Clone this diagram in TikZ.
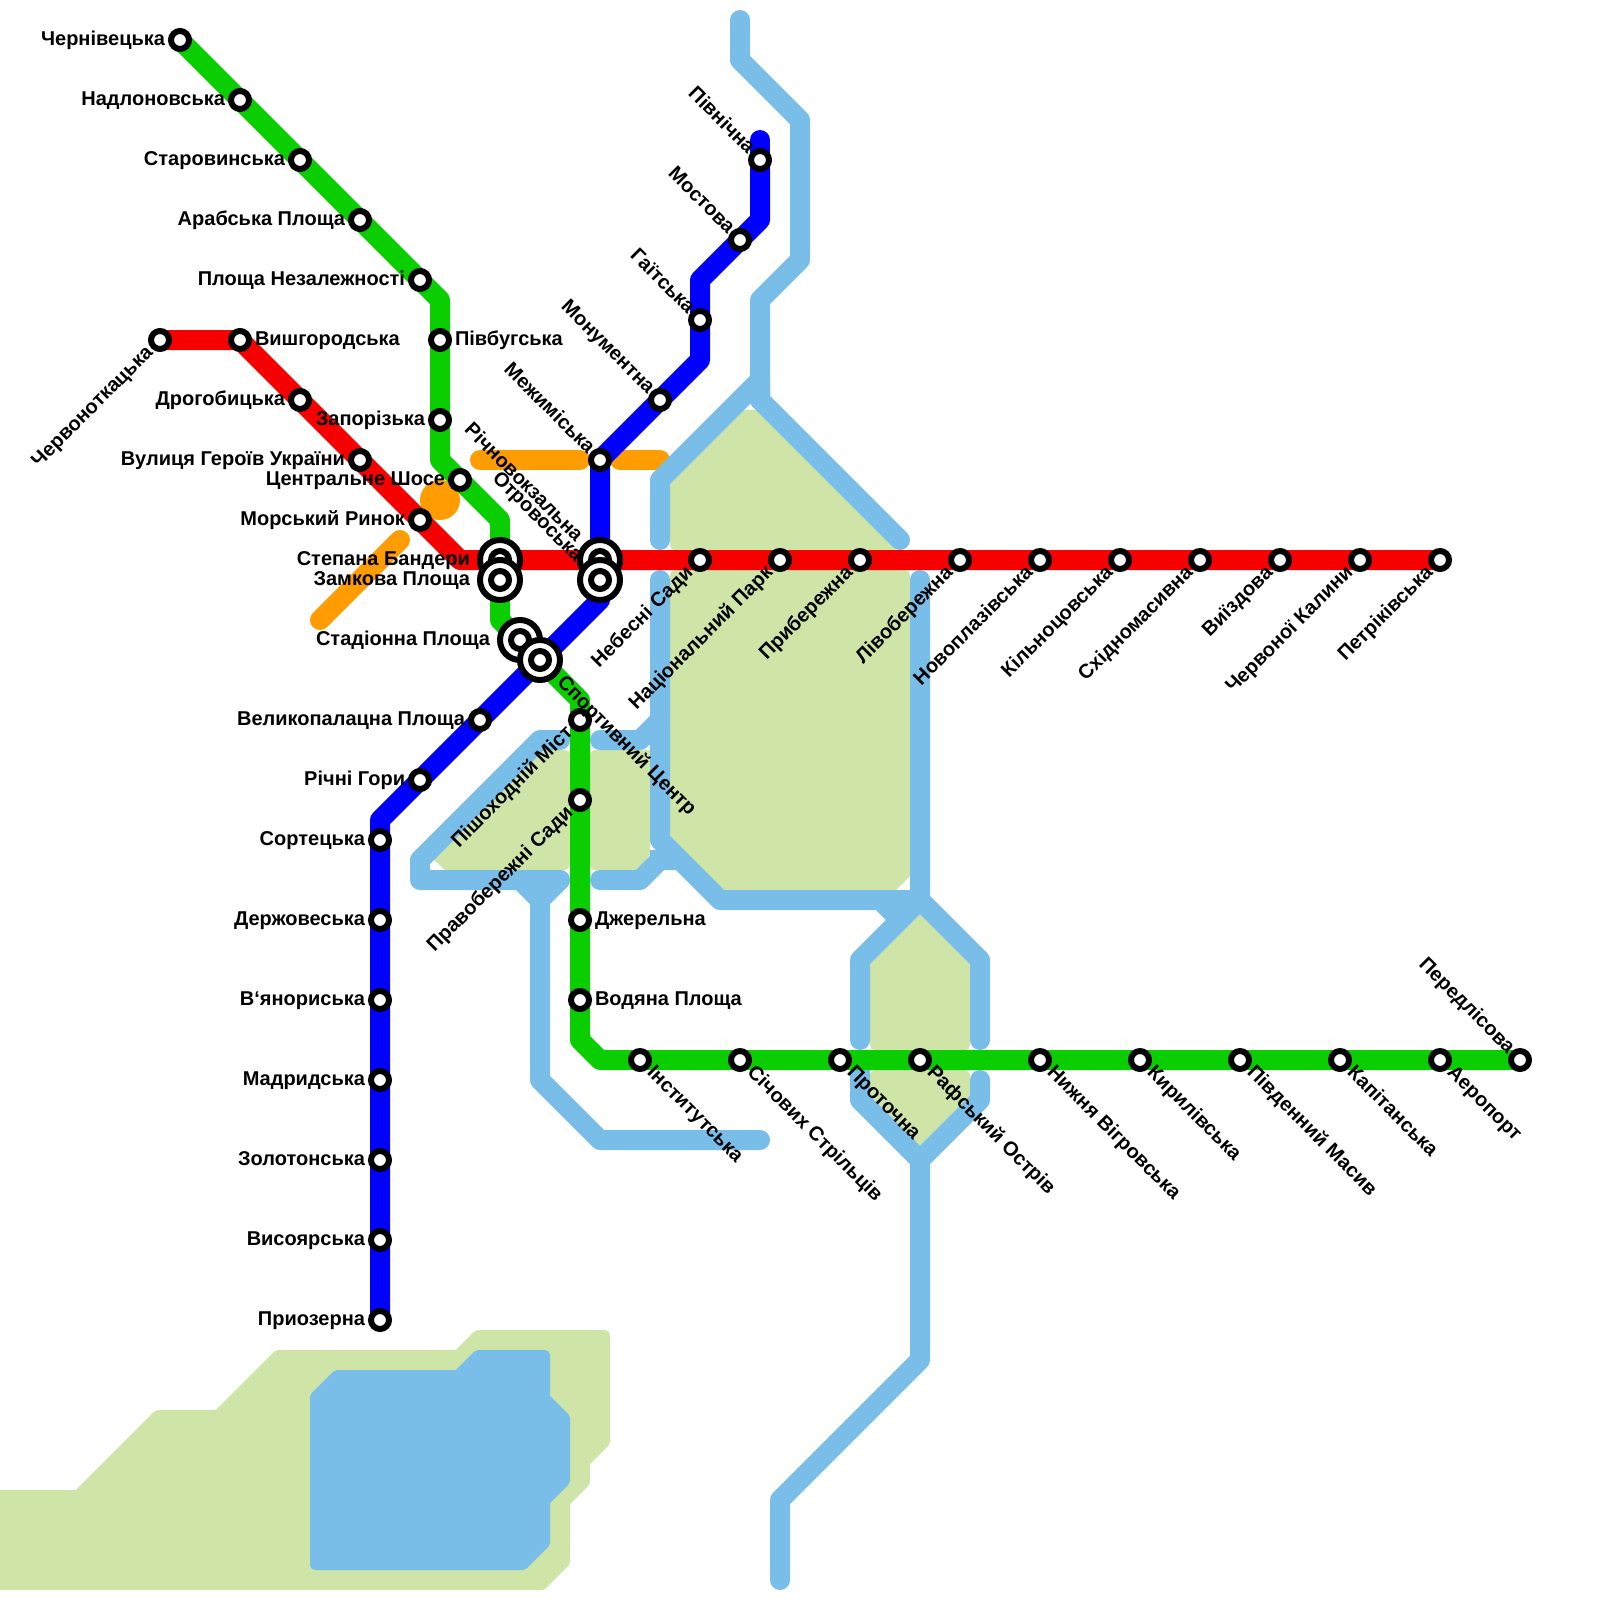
\documentclass[tikz,border=0pt]{standalone}
\usepackage{fontspec}
\setmainfont{Liberation Sans}
\pgfdeclarelayer{land}\pgfdeclarelayer{orangel}\pgfdeclarelayer{river}\pgfdeclarelayer{lines}
\pgfsetlayers{land,orangel,river,lines,main}
\definecolor{cland}{HTML}{CFE4A7}
\definecolor{criver}{HTML}{79BDE9}
\definecolor{cred}{HTML}{F70000}
\definecolor{cgreen}{HTML}{0BCE00}
\definecolor{cblue}{HTML}{0000FF}
\definecolor{corange}{HTML}{FF9C00}
\tikzset{
  stn/.style={circle,draw=black,fill=white,line width=6pt,minimum size=18pt,inner sep=0pt,outer sep=0pt},
  hubring/.style={circle,draw=black,fill=white,line width=6pt,minimum size=40pt,inner sep=0pt,outer sep=0pt},
  lbl/.style={font=\fontsize{20}{22}\selectfont\bfseries,text=black,inner sep=0pt,outer sep=0pt,text height=14.5pt,text depth=4pt},
  metro/.style={line width=20pt,line join=round,line cap=butt},
  riv/.style={draw=criver,line width=20pt,line join=round,line cap=round},
  orng/.style={draw=corange,line width=20pt,line cap=round},
  lnd/.style={fill=cland,rounded corners=5pt},
  lakeg/.style={fill=cland,draw=cland,line width=10pt,line join=round},
  lakeb/.style={fill=criver,draw=criver,line width=10pt,line join=round},
}
\newcommand{\stat}[3]{\node[stn] (#1) at (#2,#3) {};}
\newcommand{\hub}[3]{\node[hubring] (#1h) at (#2,#3) {};\node[stn] (#1) at (#2,#3) {};}
\newcommand{\lW}[3][15]{\node[lbl,anchor=east] (#2-l) at ([xshift=-#1pt]#2.center) {#3};}
\newcommand{\lE}[3][15]{\node[lbl,anchor=west] (#2-l) at ([xshift=#1pt]#2.center) {#3};}
\newcommand{\lNW}[3][9]{\node[lbl,anchor=east,rotate=-45] (#2-l) at ([xshift=-#1pt,yshift=#1pt]#2.center) {#3};}
\newcommand{\lSW}[3][10]{\node[lbl,anchor=east,rotate=45] (#2-l) at ([xshift=-#1pt,yshift=-#1pt]#2.center) {#3};}
\newcommand{\lSE}[3][10]{\node[lbl,anchor=west,rotate=-45] (#2-l) at ([xshift=#1pt,yshift=-#1pt]#2.center) {#3};}
\begin{document}
\begin{tikzpicture}[x=1pt,y=-1pt]
\useasboundingbox (0,0) rectangle (1600,1600);
% bends
\coordinate (g1) at (440,300);\coordinate (g2) at (440,460);\coordinate (g3) at (500,520);
\coordinate (g4) at (500,620);\coordinate (g5) at (580,700);\coordinate (g6) at (580,1040);\coordinate (g7) at (600,1060);
\coordinate (r1) at (460,560);
\coordinate (b0) at (760,140);\coordinate (b1) at (760,220);\coordinate (b2) at (700,280);\coordinate (b3) at (700,360);
\coordinate (b4) at (600,600);\coordinate (b5) at (380,820);
% green stations
\stat{g-a}{180}{40}\stat{g-b}{240}{100}\stat{g-c}{300}{160}\stat{g-d}{360}{220}\stat{g-e}{420}{280}
\stat{g-f}{440}{340}\stat{g-g}{440}{420}\stat{g-h}{460}{480}
\stat{g-i}{580}{720}\stat{g-j}{580}{800}\stat{g-k}{580}{920}\stat{g-l}{580}{1000}
\stat{g-m}{640}{1060}\stat{g-n}{740}{1060}\stat{g-o}{840}{1060}\stat{g-p}{920}{1060}\stat{g-q}{1040}{1060}
\stat{g-r}{1140}{1060}\stat{g-s}{1240}{1060}\stat{g-t}{1340}{1060}\stat{g-u}{1440}{1060}\stat{g-v}{1520}{1060}
% red stations
\stat{r-a}{160}{340}\stat{r-b}{240}{340}\stat{r-c}{300}{400}\stat{r-d}{360}{460}\stat{r-e}{420}{520}
\stat{r-f}{700}{560}\stat{r-g}{780}{560}\stat{r-h}{860}{560}\stat{r-i}{960}{560}\stat{r-j}{1040}{560}
\stat{r-k}{1120}{560}\stat{r-l}{1200}{560}\stat{r-m}{1280}{560}\stat{r-n}{1360}{560}\stat{r-o}{1440}{560}
% blue stations
\stat{b-a}{760}{160}\stat{b-b}{740}{240}\stat{b-c}{700}{320}\stat{b-d}{660}{400}\stat{b-e}{600}{460}
\stat{b-f}{480}{720}\stat{b-g}{420}{780}\stat{b-h}{380}{840}\stat{b-i}{380}{920}\stat{b-j}{380}{1000}
\stat{b-k}{380}{1080}\stat{b-l}{380}{1160}\stat{b-m}{380}{1240}\stat{b-n}{380}{1320}
% interchanges
\hub{h-a}{500}{560}\hub{h-b}{500}{580}\hub{h-c}{600}{560}\hub{h-d}{600}{580}\hub{h-e}{520}{640}\hub{h-f}{540}{660}
% labels
\lW{g-a}{Чернівецька}\lW{g-b}{Надлоновська}\lW{g-c}{Старовинська}\lW{g-d}{Арабська Площа}\lW{g-e}{Площа Незалежності}
\lE{g-f}{Півбугська}\lW{g-g}{Запорізька}\lW{g-h}{Центральне Шосе}
\lE{r-b}{Вишгородська}\lW{r-c}{Дрогобицька}\lW{r-d}{Вулиця Героїв України}\lW{r-e}{Морський Ринок}
\lSW{r-a}{Червоноткацька}
\lW[30]{h-a}{Степана Бандери}\lW[30]{h-b}{Замкова Площа}\lW[30]{h-e}{Стадіонна Площа}
\lNW[21]{h-c}{Річновокзальна}\lNW[21]{h-d}{Отровоська}\lSE[20]{h-f}{Спортивний Центр}
\lNW{b-a}{Північна}\lNW{b-b}{Мостова}\lNW{b-c}{Гаїтська}\lNW{b-d}{Монументна}\lNW{b-e}{Межимiська}
\lW{b-f}{Великопалацна Площа}\lW{b-g}{Річні Гори}\lW{b-h}{Сортецька}\lW{b-i}{Держовеська}\lW{b-j}{В‘янориська}
\lW{b-k}{Мадридська}\lW{b-l}{Золотонська}\lW{b-m}{Висоярська}\lW{b-n}{Приозерна}
\lSW{r-f}{Небесні Сади}\lSW{r-g}{Національний Парк}\lSW{r-h}{Прибережна}\lSW{r-i}{Лівобережна}\lSW{r-j}{Новоплазівська}
\lSW{r-k}{Кільноцовська}\lSW{r-l}{Східномасивна}\lSW{r-m}{Виїздова}\lSW{r-n}{Червоної Калини}\lSW{r-o}{Петріківська}
\lSW{g-i}{Пішоходній Міст}\lSW{g-j}{Правобережні Сади}\lE{g-k}{Джерельна}\lE{g-l}{Водяна Площа}
\lSE{g-m}{Інститутська}\lSE{g-n}{Січових Стрільців}\lSE{g-o}{Проточна}\lSE{g-p}{Рафський Острів}\lSE{g-q}{Нижня Вігровська}
\lSE{g-r}{Кирилівська}\lSE{g-s}{Південний Масив}\lSE{g-t}{Капітанська}\lSE{g-u}{Аеропорт}\lNW{g-v}{Передлісова}
% metro lines
\begin{pgfonlayer}{lines}
\draw[metro,cgreen] (g-a.center)--(g-b.center)--(g-c.center)--(g-d.center)--(g-e.center)--(g1)--(g-f.center)--(g-g.center)--(g2)--(g-h.center)--(g3)--(h-a.center)--(h-b.center)--(g4)--(h-e.center)--(h-f.center)--(g5)--(g-i.center)--(g-j.center)--(g-k.center)--(g-l.center)--(g6)--(g7)--(g-m.center)--(g-n.center)--(g-o.center)--(g-p.center)--(g-q.center)--(g-r.center)--(g-s.center)--(g-t.center)--(g-u.center)--(g-v.center);
\draw[metro,cred] (r-a.center)--(r-b.center)--(r-c.center)--(r-d.center)--(r-e.center)--(r1)--(h-a.center)--(h-c.center)--(r-f.center)--(r-g.center)--(r-h.center)--(r-i.center)--(r-j.center)--(r-k.center)--(r-l.center)--(r-m.center)--(r-n.center)--(r-o.center);
\draw[metro,cblue,line cap=round] (b0)--(b-a.center);
\draw[metro,cblue] (b-a.center)--(b1)--(b-b.center)--(b2)--(b-c.center)--(b3)--(b-d.center)--(b-e.center)--(h-c.center)--(h-d.center)--(b4)--(h-f.center)--(b-f.center)--(b-g.center)--(b5)--(b-h.center)--(b-i.center)--(b-j.center)--(b-k.center)--(b-l.center)--(b-m.center)--(b-n.center);
\end{pgfonlayer}
% orange
\begin{pgfonlayer}{orangel}
\draw[orng] (480,460)--(580,460);
\draw[orng] (620,460)--(660,460);
\draw[orng] (320,620)--(400,540);
\fill[corange] (440,500) circle (20);
\end{pgfonlayer}
% river
\begin{pgfonlayer}{river}
\draw[riv] (740,20)--(740,60)--(800,120)--(800,260)--(760,300)--(760,400)--(900,540);
\draw[riv] (660,540)--(660,480)--(760,380)--(760,400);
\draw[riv] (660,580)--(660,840)--(720,900)--(920,900);
\draw[riv] (880,900)--(900,920);
\draw[riv] (920,580)--(920,900)--(980,960)--(980,1040);
\draw[riv] (920,900)--(860,960)--(860,1040);
\draw[riv] (860,1060)--(860,1100)--(920,1160)--(980,1100)--(980,1080);
\draw[riv] (920,1160)--(920,1360)--(780,1500)--(780,1580);
\draw[riv] (560,740)--(540,740)--(420,860)--(420,880)--(560,880);
\draw[riv] (520,880)--(540,900)--(560,880);
\draw[riv] (540,900)--(540,1080)--(600,1140)--(760,1140);
\draw[riv] (600,740)--(640,740)--(660,720);
\draw[riv] (600,880)--(640,880)--(660,860);
\fill[criver] (650,850) rectangle (677,870);
\fill[criver] (630,730) rectangle (650,745);
\path[lakeb] (315,1397)--(337,1375)--(458,1375)--(478,1355)--(545,1355)--(545,1398)--(565,1418)--(565,1481)--(545,1501)--(545,1543)--(523,1565)--(315,1565)--cycle;
\end{pgfonlayer}
% land
\begin{pgfonlayer}{land}
\fill[lnd] (800,550)--(670,550)[sharp corners]--(670,484)--(744,410)--(756,410)--(896,550)--cycle;
\fill[lnd] (800,570)--(910,570)[sharp corners]--(910,876)--(896,890)--(723,890)--(670,837)[rounded corners=5pt]--(670,570)--cycle;
\fill[lnd] (500,750)--(570,750)--(570,870)[sharp corners]--(445,870)--(434,860)--(544,750)--cycle;
\fill[lnd] (620,870)--(590,870)--(590,750)[sharp corners]--(650,750)--(650,855)--(637,870)--cycle;
\fill[lnd] (920,1050)--(970,1050)[sharp corners]--(970,964)--(920,914)--(870,964)[rounded corners=5pt]--(870,1050)--cycle;
\fill[lnd] (920,1070)--(970,1070)[sharp corners]--(970,1096)--(920,1146)--(870,1096)[rounded corners=5pt]--(870,1070)--cycle;
\path[lakeg] (-30,1495)--(78,1495)--(158,1415)--(218,1415)--(278,1355)--(458,1355)--(478,1335)--(605,1335)--(605,1442)--(585,1462)--(585,1482)--(565,1502)--(565,1562)--(542,1585)--(-30,1585)--cycle;
\end{pgfonlayer}
\end{tikzpicture}
\end{document}
